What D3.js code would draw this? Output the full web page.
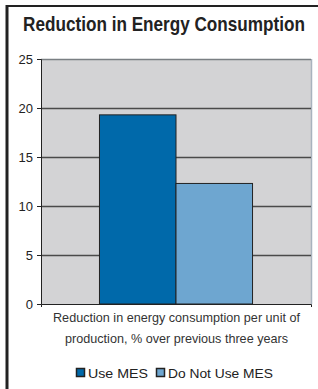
<!DOCTYPE html>
<html>
<head>
<meta charset="utf-8">
<script src="https://cdn.jsdelivr.net/npm/d3@7"></script>
<style>
body { margin: 0; background: #fff; }
svg { display: block; }
</style>
</head>
<body>
<div id="chart"></div>
<script>
var categories = ["Reduction in energy consumption per unit of production, % over previous three years"];
var seriesNames = ["Use MES", "Do Not Use MES"];
var seriesValues = [19.3, 12.3];
var yTicks = [0, 5, 10, 15, 20, 25];
var colors = ["#0069aa", "#6ea6d0"];

var width = 318,
    height = 389;

var margin = {top: 59, right: 7, bottom: 85, left: 41};

var svg = d3.select("#chart").append("svg")
    .attr("width", width)
    .attr("height", height);

// frame
svg.append("line").attr("x1", 7).attr("x2", 7).attr("y1", 5).attr("y2", height)
    .attr("stroke", "#222").attr("stroke-width", 3);
svg.append("line").attr("x1", 6).attr("x2", width).attr("y1", 6).attr("y2", 6)
    .attr("stroke", "#222").attr("stroke-width", 2);

// title, squeezed horizontally to look condensed
var title = svg.append("text")
    .attr("x", 0).attr("y", 0)
    .attr("text-anchor", "middle")
    .attr("font-family", "'Liberation Sans', Arial, sans-serif")
    .attr("font-weight", "bold")
    .attr("font-size", 21)
    .attr("fill", "#222")
    .text("Reduction in Energy Consumption");
var tw = title.node().getComputedTextLength();
title.attr("transform", "translate(164,30.5) scale(" + (282 / tw) + ",1)");

var plotW = width - margin.left - margin.right,
    plotH = height - margin.top - margin.bottom;

var g = svg.append("g").attr("transform", "translate(" + margin.left + "," + margin.top + ")");

var y = d3.scaleLinear().domain([0, 25]).range([plotH, 0]);
var x0 = d3.scaleBand().domain(categories).range([0, plotW]).paddingInner(0).paddingOuter(0.382);
var x1 = d3.scaleBand().domain(seriesNames).range([0, x0.bandwidth()]).padding(0);

g.append("rect").attr("width", plotW).attr("height", plotH).attr("fill", "#d3d3d5");
g.append("line").attr("x1", plotW + 0.5).attr("x2", plotW + 0.5).attr("y1", 0).attr("y2", plotH)
    .attr("stroke", "#a9b3be").attr("stroke-width", 1.5);

// gridlines
g.selectAll(".grid").data(yTicks.filter(function(d) { return d > 0; }))
    .enter().append("line")
    .attr("x1", 0).attr("x2", plotW)
    .attr("y1", function(d) { return Math.round(y(d)) + 0.5; })
    .attr("y2", function(d) { return Math.round(y(d)) + 0.5; })
    .attr("stroke", function(d) { return d === 25 ? "#7a7f83" : "#4a4a4a"; })
    .attr("stroke-width", 1.3);

// bars
var cat = g.selectAll(".cat").data(categories).enter().append("g")
    .attr("transform", function(d) { return "translate(" + x0(d) + ",0)"; });

cat.selectAll("rect").data(seriesValues).enter().append("rect")
    .attr("x", function(d, i) { return x1(seriesNames[i]); })
    .attr("y", function(d) { return y(d); })
    .attr("width", x1.bandwidth())
    .attr("height", function(d) { return plotH - y(d); })
    .attr("fill", function(d, i) { return colors[i]; })
    .attr("stroke", "#222")
    .attr("stroke-width", 1);

// y axis
var yAxis = g.append("g").call(d3.axisLeft(y).tickValues(yTicks).tickSize(4).tickPadding(4));
yAxis.select(".domain").attr("stroke", "#222");
yAxis.selectAll(".tick line").attr("stroke", "#222");
yAxis.selectAll("text")
    .attr("font-family", "'Liberation Sans', Arial, sans-serif")
    .attr("font-size", 13)
    .attr("fill", "#222");

// x axis
var xAxis = g.append("g").attr("transform", "translate(0," + plotH + ")")
    .call(d3.axisBottom(x0).tickValues([]).tickSizeOuter(3));
xAxis.select(".domain").attr("stroke", "#222");

// x label (two lines)
var xLabelLines = ["Reduction in energy consumption per unit of", "production, % over previous three years"];
var xLabelLens = [247, 223];
svg.selectAll(".xlab").data(xLabelLines).enter().append("text")
    .attr("x", margin.left + plotW / 2 + 0.5)
    .attr("y", function(d, i) { return 322 + i * 21; })
    .attr("text-anchor", "middle")
    .attr("font-family", "'Liberation Sans', Arial, sans-serif")
    .attr("font-size", 13.5)
    .attr("fill", "#333")
    .attr("textLength", function(d, i) { return xLabelLens[i]; })
    .attr("lengthAdjust", "spacingAndGlyphs")
    .text(function(d) { return d; });

// legend
var legendX = [76, 156];
var legendLens = [60, 105];
var leg = svg.selectAll(".leg").data(seriesNames).enter().append("g")
    .attr("transform", function(d, i) { return "translate(" + legendX[i] + ",368)"; });
leg.append("rect").attr("x", 0.5).attr("y", 0.5).attr("width", 8).attr("height", 8)
    .attr("fill", function(d, i) { return colors[i]; })
    .attr("stroke", "#222").attr("stroke-width", 1.5);
leg.append("text")
    .attr("x", 12).attr("y", 9.5)
    .attr("font-family", "'Liberation Sans', Arial, sans-serif")
    .attr("font-size", 13)
    .attr("fill", "#222")
    .attr("textLength", function(d, i) { return legendLens[i]; })
    .attr("lengthAdjust", "spacingAndGlyphs")
    .text(function(d) { return d; });
</script>
</body>
</html>
